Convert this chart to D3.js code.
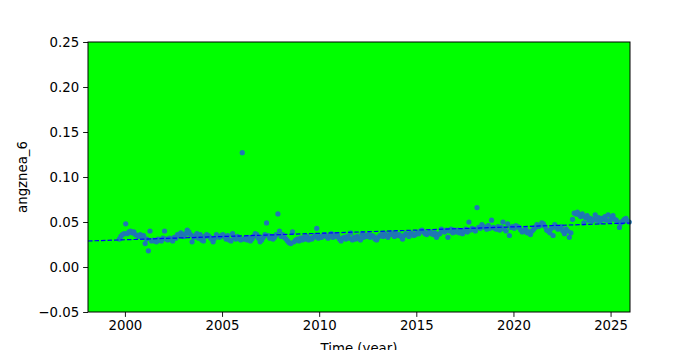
<!DOCTYPE html>
<html>
<head>
<meta charset="utf-8">
<script src="https://cdn.jsdelivr.net/npm/d3@7"></script>
<style>
  body { margin: 0; background: #fff; }
  text { font-family: "DejaVu Sans", sans-serif; }
</style>
</head>
<body>
<svg id="chart"></svg>
<script>
// monthly values per year (1999 starts in September)
const years = [1999, 2000, 2001, 2002, 2003, 2004, 2005, 2006, 2007, 2008, 2009, 2010, 2011, 2012,
  2013, 2014, 2015, 2016, 2017, 2018, 2019, 2020, 2021, 2022, 2023, 2024, 2025];
const firstMonth = [8, 0, 0, 0, 0, 0, 0, 0, 0, 0, 0, 0, 0, 0, 0, 0, 0, 0, 0, 0, 0, 0, 0, 0, 0, 0, 0];
const values = [
  [0.031, 0.034, 0.036, 0.037],
  [0.048, 0.037, 0.039, 0.040, 0.038, 0.039, 0.036, 0.035, 0.034, 0.036, 0.033, 0.035],
  [0.026, 0.031, 0.018, 0.040, 0.029, 0.030, 0.029, 0.028, 0.031, 0.030, 0.029, 0.032],
  [0.040, 0.031, 0.030, 0.032, 0.031, 0.029, 0.033, 0.032, 0.036, 0.035, 0.038, 0.036],
  [0.034, 0.037, 0.041, 0.039, 0.036, 0.028, 0.033, 0.035, 0.037, 0.032, 0.036, 0.030],
  [0.029, 0.034, 0.036, 0.035, 0.033, 0.031, 0.028, 0.032, 0.036, 0.034, 0.033, 0.035],
  [0.036, 0.034, 0.031, 0.035, 0.030, 0.029, 0.037, 0.033, 0.031, 0.034, 0.032, 0.030],
  [0.127, 0.031, 0.032, 0.030, 0.033, 0.029, 0.031, 0.034, 0.037, 0.036, 0.032, 0.028],
  [0.030, 0.033, 0.036, 0.049, 0.035, 0.032, 0.034, 0.031, 0.033, 0.036, 0.059, 0.040],
  [0.034, 0.036, 0.033, 0.031, 0.029, 0.027, 0.026, 0.039, 0.028, 0.030, 0.031, 0.029],
  [0.032, 0.030, 0.033, 0.031, 0.034, 0.030, 0.032, 0.031, 0.033, 0.035, 0.043, 0.032],
  [0.034, 0.033, 0.035, 0.036, 0.034, 0.032, 0.035, 0.037, 0.033, 0.036, 0.034, 0.035],
  [0.031, 0.029, 0.032, 0.033, 0.031, 0.034, 0.032, 0.038, 0.030, 0.033, 0.031, 0.034],
  [0.032, 0.030, 0.037, 0.033, 0.035, 0.034, 0.036, 0.033, 0.035, 0.034, 0.031, 0.030],
  [0.033, 0.035, 0.036, 0.034, 0.037, 0.035, 0.033, 0.036, 0.038, 0.036, 0.034, 0.037],
  [0.035, 0.036, 0.034, 0.031, 0.035, 0.037, 0.036, 0.034, 0.038, 0.037, 0.035, 0.036],
  [0.038, 0.037, 0.040, 0.041, 0.039, 0.037, 0.036, 0.038, 0.039, 0.037, 0.036, 0.038],
  [0.033, 0.036, 0.037, 0.042, 0.040, 0.039, 0.041, 0.033, 0.040, 0.042, 0.038, 0.041],
  [0.039, 0.041, 0.038, 0.040, 0.037, 0.040, 0.042, 0.039, 0.050, 0.041, 0.043, 0.042],
  [0.040, 0.066, 0.044, 0.043, 0.047, 0.045, 0.044, 0.042, 0.046, 0.043, 0.052, 0.044],
  [0.043, 0.042, 0.045, 0.041, 0.044, 0.050, 0.042, 0.040, 0.048, 0.035, 0.044, 0.045],
  [0.043, 0.046, 0.045, 0.044, 0.041, 0.039, 0.040, 0.042, 0.038, 0.039, 0.036, 0.040],
  [0.042, 0.044, 0.047, 0.045, 0.046, 0.049, 0.048, 0.045, 0.041, 0.040, 0.038, 0.043],
  [0.035, 0.047, 0.044, 0.042, 0.043, 0.045, 0.040, 0.037, 0.042, 0.040, 0.033, 0.038],
  [0.053, 0.060, 0.059, 0.061, 0.058, 0.056, 0.059, 0.049, 0.055, 0.057, 0.052, 0.054],
  [0.051, 0.053, 0.058, 0.052, 0.055, 0.050, 0.054, 0.053, 0.056, 0.052, 0.058, 0.051],
  [0.055, 0.057, 0.053, 0.052, 0.050, 0.044, 0.049, 0.051, 0.053, 0.054, 0.051, 0.050]
];

// linear trend end points
const trendYears = [1998.1, 2026.0];
const trendValues = [0.0289, 0.0489];

const xTicks = [2000, 2005, 2010, 2015, 2020, 2025];
const yTicks = [-0.05, 0.00, 0.05, 0.10, 0.15, 0.20, 0.25];

const width = 700;
const height = 350;
const margin = { top: 42, right: 70, bottom: 38, left: 88 };

const svg = d3.select("#chart")
  .attr("width", width)
  .attr("height", height);

const x = d3.scaleLinear()
  .domain([1998.1, 2026.0])
  .range([margin.left, width - margin.right]);

const y = d3.scaleLinear()
  .domain([-0.05, 0.25])
  .range([height - margin.bottom, margin.top]);

// flatten to points
const points = [];
years.forEach((yr, i) => {
  values[i].forEach((v, j) => {
    points.push({ t: yr + (firstMonth[i] + j + 0.5) / 12, v: v });
  });
});

// plot background
svg.append("rect")
  .attr("x", margin.left)
  .attr("y", margin.top)
  .attr("width", width - margin.left - margin.right)
  .attr("height", height - margin.top - margin.bottom)
  .attr("fill", "#00ff00");

const plot = svg.append("g");

plot.selectAll("circle")
  .data(points)
  .join("circle")
  .attr("cx", d => x(d.t))
  .attr("cy", d => y(d.v))
  .attr("r", 2.6)
  .attr("fill", "#1f77b4");

const line = d3.line()
  .x(d => x(d[0]))
  .y(d => y(d[1]));

plot.append("path")
  .datum(trendYears.map((t, i) => [t, trendValues[i]]))
  .attr("fill", "none")
  .attr("stroke", "#0000ff")
  .attr("stroke-width", 1.2)
  .attr("stroke-dasharray", "4.5,2")
  .attr("d", line);

// axes
const xAxis = svg.append("g")
  .attr("transform", "translate(0," + (height - margin.bottom) + ")")
  .call(d3.axisBottom(x).tickValues(xTicks).tickFormat(d3.format("d")).tickSize(4.9).tickPadding(4));

const yAxis = svg.append("g")
  .attr("transform", "translate(" + margin.left + ",0)")
  .call(d3.axisLeft(y).tickValues(yTicks).tickFormat(d3.format(".2f")).tickSize(4.9).tickPadding(4));

[xAxis, yAxis].forEach(a => {
  a.select(".domain").remove();
  a.selectAll("line").attr("stroke", "#000").attr("stroke-width", 0.9);
  a.selectAll("text")
    .attr("fill", "#000")
    .style("font-size", "13.3px")
    .style("font-family", "DejaVu Sans, sans-serif");
});

// frame
svg.append("rect")
  .attr("x", margin.left)
  .attr("y", margin.top)
  .attr("width", width - margin.left - margin.right)
  .attr("height", height - margin.top - margin.bottom)
  .attr("fill", "none")
  .attr("stroke", "#000")
  .attr("stroke-width", 1);

// labels
svg.append("text")
  .attr("x", (margin.left + width - margin.right) / 2)
  .attr("y", 353)
  .attr("text-anchor", "middle")
  .style("font-size", "13.3px")
  .text("Time (year)");

svg.append("text")
  .attr("transform", "translate(27," + ((margin.top + height - margin.bottom) / 2) + ") rotate(-90)")
  .attr("text-anchor", "middle")
  .style("font-size", "13.3px")
  .text("angznea_6");
</script>
</body>
</html>
